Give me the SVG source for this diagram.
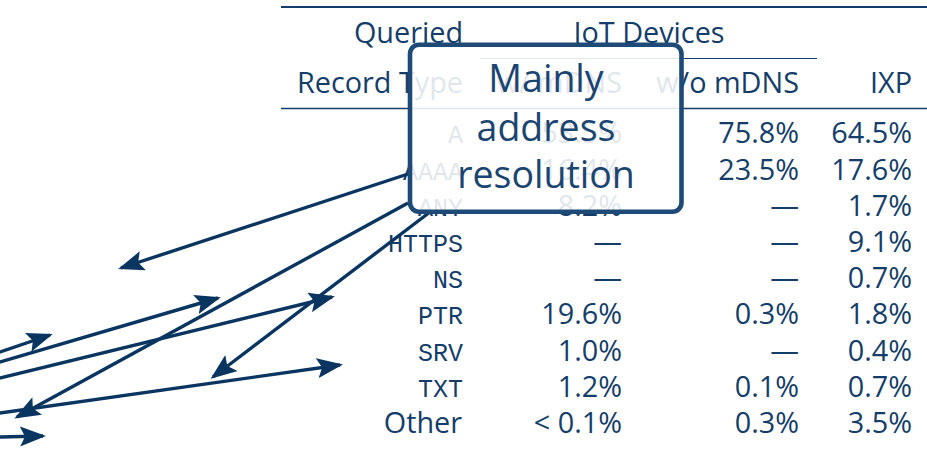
<svg xmlns="http://www.w3.org/2000/svg" width="927" height="449" viewBox="0 0 927 449">
<style>
.sans{font-family:"Open Sans","Noto Sans","DejaVu Sans",sans-serif;font-size:28.8px;fill:#143d69}
.mono{font-family:"Liberation Mono","DejaVu Sans Mono",monospace;font-size:25px;fill:#143d69}
.end{text-anchor:end}
.mid{text-anchor:middle}
.rule{stroke:#143d69;fill:none}
.conn{stroke:#0a3561;stroke-width:3.4;fill:none;marker-end:url(#head)}
.callout-text{font-family:"Open Sans","Noto Sans","DejaVu Sans",sans-serif;font-size:37.5px;fill:#1b4571;text-anchor:middle}
</style>
<defs>
<marker id="head" viewBox="0 0 26 20" refX="23" refY="10" markerWidth="26" markerHeight="20" markerUnits="userSpaceOnUse" orient="auto">
<path d="M0,0 L26,10 L0,20 L5,10 Z" fill="#0a3561"/>
</marker>
</defs>
<rect width="927" height="449" fill="#ffffff"/>
<g id="table">
<line class="rule" x1="281" y1="7" x2="927" y2="7" stroke-width="2"/>
<line class="rule" x1="480" y1="58.5" x2="817" y2="58.5" stroke-width="1"/>
<line class="rule" x1="281" y1="108.5" x2="927" y2="108.5" stroke-width="1.3"/>
<text class="sans end" x="463" y="43">Queried</text>
<text class="sans mid" x="649" y="43">IoT Devices</text>
<text class="sans end" x="463" y="93">Record Type</text>
<text class="sans end" x="622" y="93">w/ mDNS</text>
<text class="sans end" x="799" y="93">w/o mDNS</text>
<text class="sans end" x="912" y="93">IXP</text>
<g id="col-type">
<text class="mono end" x="463" y="143.3">A</text>
<text class="mono end" x="463" y="179.5">AAAA</text>
<text class="mono end" x="463" y="215.7">ANY</text>
<text class="mono end" x="463" y="251.9">HTTPS</text>
<text class="mono end" x="463" y="288.1">NS</text>
<text class="mono end" x="463" y="324.3">PTR</text>
<text class="mono end" x="463" y="360.5">SRV</text>
<text class="mono end" x="463" y="396.7">TXT</text>
<text class="sans end" x="462" y="432.9">Other</text>
</g>
<g id="col-mdns">
<text class="sans end" x="622" y="143.3">53.5%</text>
<text class="sans end" x="622" y="179.5">16.4%</text>
<text class="sans end" x="622" y="215.7">8.2%</text>
<text class="sans end" x="622" y="251.9">—</text>
<text class="sans end" x="622" y="288.1">—</text>
<text class="sans end" x="622" y="324.3">19.6%</text>
<text class="sans end" x="622" y="360.5">1.0%</text>
<text class="sans end" x="622" y="396.7">1.2%</text>
<text class="sans end" x="622" y="432.9">&lt; 0.1%</text>
</g>
<g id="col-nomdns">
<text class="sans end" x="799" y="143.3">75.8%</text>
<text class="sans end" x="799" y="179.5">23.5%</text>
<text class="sans end" x="799" y="215.7">—</text>
<text class="sans end" x="799" y="251.9">—</text>
<text class="sans end" x="799" y="288.1">—</text>
<text class="sans end" x="799" y="324.3">0.3%</text>
<text class="sans end" x="799" y="360.5">—</text>
<text class="sans end" x="799" y="396.7">0.1%</text>
<text class="sans end" x="799" y="432.9">0.3%</text>
</g>
<g id="col-ixp">
<text class="sans end" x="912" y="143.3">64.5%</text>
<text class="sans end" x="912" y="179.5">17.6%</text>
<text class="sans end" x="912" y="215.7">1.7%</text>
<text class="sans end" x="912" y="251.9">9.1%</text>
<text class="sans end" x="912" y="288.1">0.7%</text>
<text class="sans end" x="912" y="324.3">1.8%</text>
<text class="sans end" x="912" y="360.5">0.4%</text>
<text class="sans end" x="912" y="396.7">0.7%</text>
<text class="sans end" x="912" y="432.9">3.5%</text>
</g>
</g>
<g id="connectors">
<path class="conn" d="M408,174 L121,268"/>
<path class="conn" d="M408,203 L17,417"/>
<path class="conn" d="M430,212 L213,377"/>
<path class="conn" d="M-10,380.4 L332,297"/>
<path class="conn" d="M-10,365 L218,298"/>
<path class="conn" d="M-10,355.4 L50,335"/>
<path class="conn" d="M-10,414.4 L340,365"/>
<path class="conn" d="M-10,437.2 L43,436"/>
</g>
<g id="callout">
<rect x="410" y="44.7" width="271.5" height="167" rx="9" fill="#ffffff" fill-opacity="0.87" stroke="#1e4a77" stroke-width="4.6"/>
<text class="callout-text" x="546" y="92">Mainly</text>
<text class="callout-text" x="546" y="141">address</text>
<text class="callout-text" x="546" y="188">resolution</text>
</g>
</svg>
